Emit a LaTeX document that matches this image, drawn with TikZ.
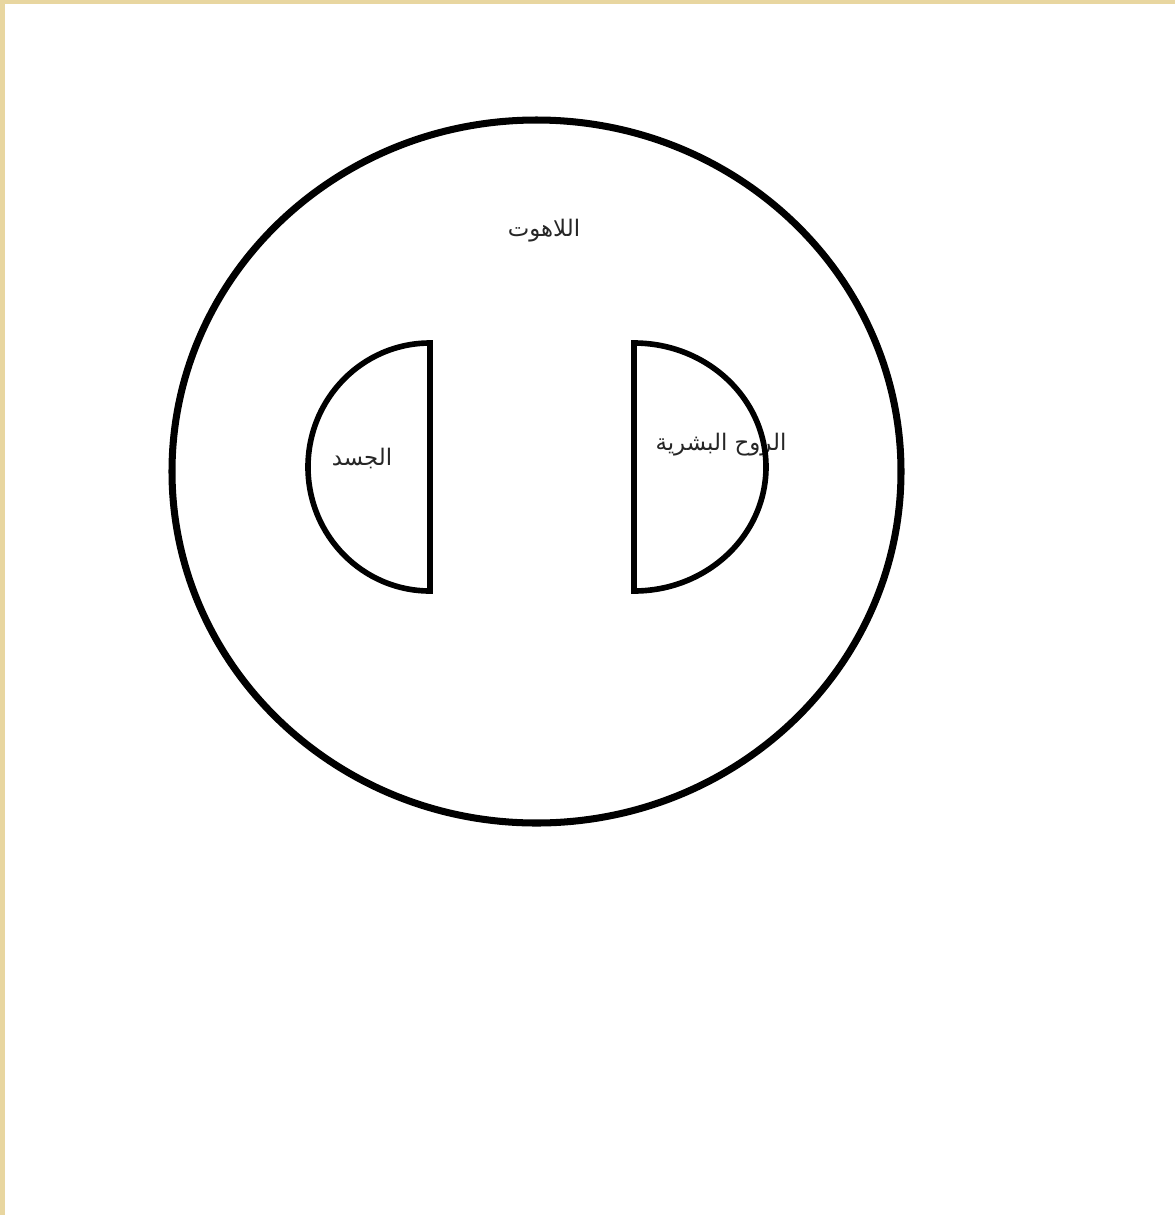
\documentclass[tikz,border=0pt]{standalone}
\usepackage{fontspec}
\newfontfamily\arabicfont[Script=Arabic]{DejaVu Sans}
\TeXXeTstate=1
\usetikzlibrary{calc,positioning}
\definecolor{frametan}{RGB}{232,214,160}

\begin{document}
\begin{tikzpicture}[x=0.02cm, y=-0.02cm,
 outline/.style={draw=black, line width=4pt},
 halfdisc/.style={draw=black, line width=3.2pt},
 label text/.style={font=\arabicfont\fontsize{13}{15}\selectfont, text=black!85, inner sep=0pt}]

 % frame and page
 \fill [frametan] (0,0) rectangle (1175,1215);
 \fill [white] (5,4) rectangle (1175,1215);
 \useasboundingbox (0,0) rectangle (1175,1215);

 \coordinate (O) at (536.5,471.5);
 \coordinate (L) at (430,467);
 \coordinate (R) at (634,467);

 \draw [outline] (O) ellipse [x radius=364.5, y radius=351.5];

 \node (divine) [label text] at (544,231) {\beginR اللاهوت\endR};
 \node (body) [label text] at (362,458) {\beginR الجسد\endR};
 \node (soul) [label text] at (721,445) {\beginR الروح البشرية\endR};

% \draw (L) -- (R);
 \draw [halfdisc] ($(L)+(0,-124)$) arc [start angle=-90, end angle=-270, x radius=122, y radius=124] -- cycle;
 \draw [halfdisc] ($(R)+(0,-124)$) arc [start angle=-90, end angle=90, x radius=132, y radius=124] -- cycle;

\end{tikzpicture}
\end{document}
